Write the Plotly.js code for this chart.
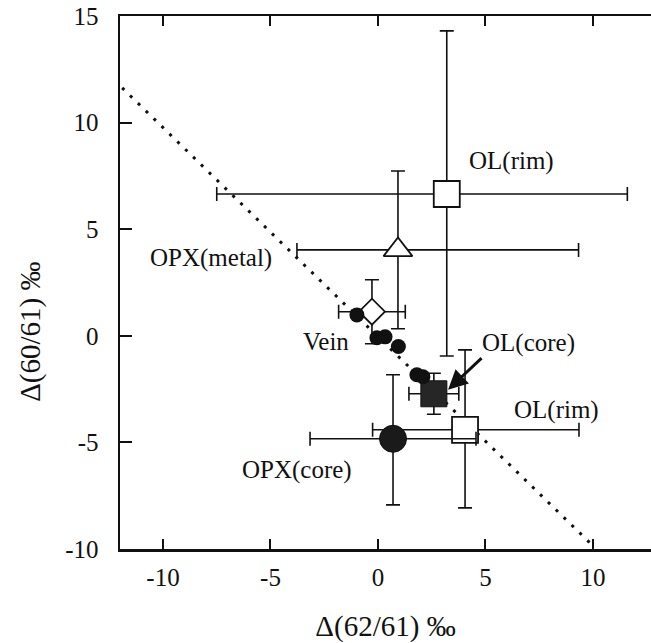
<!DOCTYPE html>
<html>
<head>
<meta charset="utf-8">
<script src="https://cdn.plot.ly/plotly-3.0.1.min.js"></script>
<style>
  html, body { margin: 0; padding: 0; background: #fff; }
  #chart { width: 651px; height: 643px; }
</style>
</head>
<body>
<div id="chart"></div>
<script>
// Isotope anomalies: Δ(62/61) vs Δ(60/61), per mil

// Olivine rims (open squares)
const rimX = [3.2, 4.05];
const rimY = [6.65, -4.41];
const rimErrXMinus = [10.7, 4.3];
const rimErrXPlus = [8.4, 5.3];
const rimErrYMinus = [7.6, 3.66];
const rimErrYPlus = [7.65, 3.75];

// Orthopyroxene next to metal (open triangle)
const opxMetalX = [0.93];
const opxMetalY = [4.03];
const opxMetalErrXMinus = [4.7];
const opxMetalErrXPlus = [8.4];
const opxMetalErrY = [3.7];

// Open diamond
const diamondX = [-0.28];
const diamondY = [1.13];
const diamondErrX = [1.55];
const diamondErrY = [1.5];

// Vein analyses (small filled circles)
const veinX = [-0.98, -0.05, 0.33, 0.95, 1.81, 2.09];
const veinY = [0.98, -0.09, -0.05, -0.5, -1.83, -1.92];

// Olivine core (filled square)
const olCoreX = [2.6];
const olCoreY = [-2.72];
const olCoreErrX = [1.16];
const olCoreErrY = [0.96];

// Orthopyroxene core (large filled circle)
const opxCoreX = [0.7];
const opxCoreY = [-4.83];
const opxCoreErrX = [3.86];
const opxCoreErrYMinus = [3.1];
const opxCoreErrYPlus = [3.0];

// Reference line
const lineX = [-11.9, 9.95];
const lineY = [11.63, -9.8];

// Tick values
const tickVals = [-10, -5, 0, 5, 10];
const yTickVals = [-10, -5, 0, 5, 10, 15];

const serif = 'Liberation Serif, Times New Roman, serif';
const ink = '#111';

function errBar(minus, plus, capHalf) {
  return {
    type: 'data', symmetric: plus === undefined,
    array: plus === undefined ? minus : plus,
    arrayminus: plus === undefined ? undefined : minus,
    color: ink, thickness: 1.6, width: capHalf
  };
}

const traces = [
  {
    x: lineX, y: lineY, mode: 'lines', hoverinfo: 'skip',
    line: { color: ink, width: 3, dash: '3px,8px' }
  },
  {
    x: rimX, y: rimY, mode: 'markers', name: 'OL(rim)',
    marker: { symbol: 'square', size: 26, color: '#fff', line: { color: ink, width: 1.8 } },
    error_x: errBar(rimErrXMinus, rimErrXPlus, 7),
    error_y: errBar(rimErrYMinus, rimErrYPlus, 7)
  },
  {
    x: opxMetalX, y: opxMetalY, mode: 'markers', name: 'OPX(metal)',
    marker: { symbol: 'triangle-up', size: 25, color: '#fff', line: { color: ink, width: 1.8 } },
    error_x: errBar(opxMetalErrXMinus, opxMetalErrXPlus, 7),
    error_y: errBar(opxMetalErrY, undefined, 7)
  },
  {
    x: diamondX, y: diamondY, mode: 'markers',
    marker: { symbol: 'diamond', size: 20, color: '#fff', line: { color: ink, width: 1.8 } },
    error_x: errBar(diamondErrX, undefined, 7),
    error_y: errBar(diamondErrY, undefined, 7)
  },
  {
    x: opxCoreX, y: opxCoreY, mode: 'markers', name: 'OPX(core)',
    marker: { symbol: 'circle', size: 27, color: '#1a1a1a', line: { color: ink, width: 1 } },
    error_x: errBar(opxCoreErrX, undefined, 7),
    error_y: errBar(opxCoreErrYMinus, opxCoreErrYPlus, 7)
  },
  {
    x: olCoreX, y: olCoreY, mode: 'markers', name: 'OL(core)',
    marker: { symbol: 'square', size: 26, color: '#262626', line: { color: ink, width: 1 } },
    error_x: errBar(olCoreErrX, undefined, 7),
    error_y: errBar(olCoreErrY, undefined, 7)
  },
  {
    x: veinX, y: veinY, mode: 'markers', name: 'Vein',
    marker: { symbol: 'circle', size: 15, color: ink }
  }
];

const labelFont = { family: serif, size: 25, color: ink };
function label(text, x, y) {
  return { text: text, x: x, y: y, xref: 'x', yref: 'y', showarrow: false, font: labelFont };
}

const layout = {
  width: 651, height: 643,
  margin: { l: 120, r: 0, t: 16, b: 94 },
  paper_bgcolor: '#fff', plot_bgcolor: '#fff',
  showlegend: false,
  font: { family: serif, color: ink },
  xaxis: {
    range: [-12, 12.7],
    tickvals: tickVals, ticktext: tickVals.map(String),
    ticks: 'inside', ticklen: 10, tickwidth: 2, tickcolor: ink,
    showline: true, linecolor: ink, linewidth: 2.5, mirror: 'ticks',
    showgrid: false, zeroline: false,
    tickfont: { family: serif, size: 25, color: ink },
    ticklabelstandoff: 4,
    title: { text: 'Δ(62/61) ‰', font: { family: serif, size: 29, color: ink }, standoff: 28 }
  },
  yaxis: {
    range: [-10, 15],
    tickvals: yTickVals, ticktext: yTickVals.map(String),
    ticks: 'inside', ticklen: 12, tickwidth: 2, tickcolor: ink,
    showline: true, linecolor: ink, linewidth: 2.5, mirror: false,
    showgrid: false, zeroline: false,
    tickfont: { family: serif, size: 25, color: ink },
    ticklabelstandoff: 14
  },
  annotations: [
    {
      text: 'Δ(60/61) ‰', textangle: -90,
      xref: 'paper', yref: 'paper', x: -0.17, y: 0.407,
      xanchor: 'center', yanchor: 'middle', showarrow: false,
      font: { family: serif, size: 29, color: ink }
    },
    label('OL(rim)', 6.23, 8.2),
    label('OPX(metal)', -7.77, 3.66),
    label('Vein', -2.42, -0.28),
    label('OL(core)', 7.0, -0.33),
    label('OL(rim)', 8.3, -3.47),
    label('OPX(core)', -3.77, -6.29),
    {
      text: '', x: 3.26, y: -2.53, xref: 'x', yref: 'y',
      showarrow: true, ax: 35, ay: -33, arrowhead: 2, arrowsize: 1.3,
      arrowwidth: 3, arrowcolor: ink, standoff: 0
    }
  ]
};

Plotly.newPlot('chart', traces, layout, { staticPlot: true, displayModeBar: false });
</script>
</body>
</html>
